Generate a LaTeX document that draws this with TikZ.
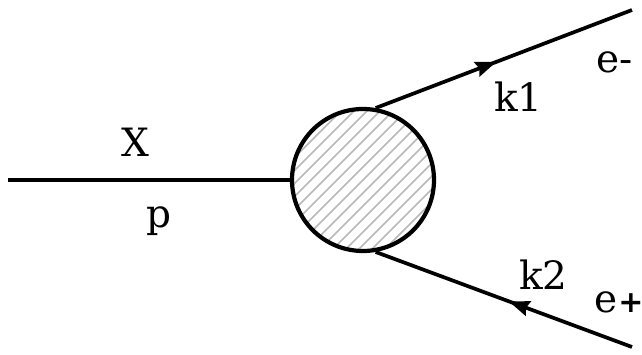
\documentclass[tikz,border=0pt]{standalone}
\usepackage{fontspec}
\setmainfont{DejaVu Serif}
\newfontfamily\plusfont{DejaVu Sans}
\usetikzlibrary{calc}
\begin{document}
\begin{tikzpicture}[x=1pt,y=1pt,
    prop/.style={line width=3.7pt},
    blobstyle/.style={circle,draw,line width=4.2pt,minimum size=142pt,inner sep=0pt},
    hatch/.style={draw=black!28,line width=1.7pt},
    lbl/.style={anchor=base west,inner sep=0pt,font=\fontsize{39}{46}\selectfont}]
  \useasboundingbox (0,0) rectangle (642,355);

  % vertex blob and its hatching
  \coordinate (c) at (363,175);
  \begin{scope}
    \clip (c) circle (71);
    \foreach \i in {-12,...,12}
      \draw[hatch] ($(c)+(\i*13-90,-90)$) -- ++(180,180);
  \end{scope}
  \node[blobstyle] (blob) at (c) {};

  % external legs
  \coordinate (xin) at (8,175);
  \coordinate (eminus) at (632,345);
  \coordinate (eplus) at (632,8);
  \coordinate (tipone) at ($(blob.80)!0.47!(eminus)$);
  \coordinate (tiptwo) at ($(eplus)!0.48!(blob.-80)$);
  \draw[prop] (xin) -- (blob.west);
  \draw[prop] (blob.80) -- (eminus);
  \draw[prop] (eplus) -- (blob.-80);

  % momentum-flow arrowheads along the fermion legs
  \path let \p1=($(eminus)-(blob.80)$), \n1={atan2(\y1,\x1)} in
    [fill=black,shift={(tipone)},rotate=\n1] (0,0) -- (-21,8) -- (-18,0) -- (-21,-8) -- cycle;
  \path let \p1=($(blob.-80)-(eplus)$), \n1={atan2(\y1,\x1)} in
    [fill=black,shift={(tiptwo)},rotate=\n1] (0,0) -- (-21,8) -- (-18,0) -- (-21,-8) -- cycle;

  % labels
  \node[lbl] (lx) at (121,198) {X};
  \node[lbl] (lp) at (146,127) {p};
  \node[lbl] (lk1) at (494,243) {k1};
  \node[lbl] (lem) at (596,282) {e-};
  \node[lbl] (lk2) at (519,65) {k2};
  \node[lbl] (lep) at (594,42) {e\kern1pt{\plusfont\fontsize{30}{32}\selectfont\bfseries +}};
\end{tikzpicture}
\end{document}
